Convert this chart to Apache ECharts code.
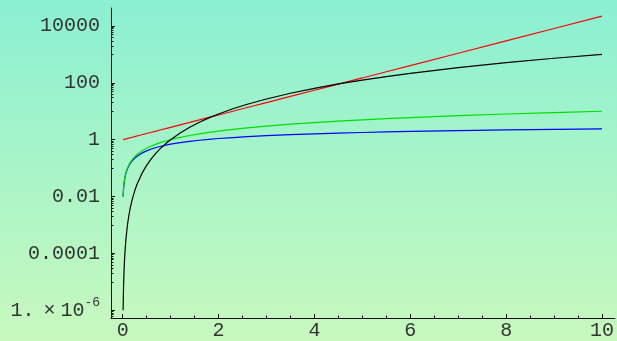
<!DOCTYPE html>
<html>
<head>
<meta charset="utf-8">
<script src="https://cdn.jsdelivr.net/npm/echarts@6/dist/echarts.min.js"></script>
<style>
html,body{margin:0;padding:0;}
#c{width:617px;height:341px;}
</style>
</head>
<body>
<div id="c"></div>
<script>
// x sample positions
var xs = [0.01,0.015,0.02,0.03,0.04,0.05,0.07,0.1,0.13,0.16,0.2,0.25,0.3,0.4,0.5,0.6,0.7,0.8,0.9,1,1.2,1.4,1.6,1.8,2,2.3,2.6,3,3.5,4,4.5,5,5.5,6,7,8,9,10];
// red curve values
var redVals = [1.01,1.015,1.02,1.03,1.04,1.05,1.07,1.105,1.14,1.17,1.22,1.28,1.35,1.49,1.65,1.82,2.01,2.23,2.46,2.72,3.32,4.06,4.95,6.05,7.39,9.97,13.5,20.1,33.1,54.6,90,148,245,403,1097,2981,8103,22026];
// black curve values
var blackVals = [1e-6,3.4e-6,8e-6,2.7e-5,6.4e-5,1.25e-4,3.4e-4,0.001,0.0022,0.0041,0.008,0.0156,0.027,0.064,0.125,0.216,0.343,0.512,0.729,1,1.73,2.74,4.1,5.83,8,12.2,17.6,27,42.9,64,91,125,166,216,343,512,729,1000];
// green curve values
var greenVals = [0.01,0.015,0.02,0.03,0.04,0.05,0.07,0.1,0.13,0.16,0.2,0.25,0.3,0.4,0.5,0.6,0.7,0.8,0.9,1,1.2,1.4,1.6,1.8,2,2.3,2.6,3,3.5,4,4.5,5,5.5,6,7,8,9,10];
// blue curve values
var blueVals = [0.00995,0.0149,0.0198,0.0296,0.0392,0.0488,0.0677,0.0953,0.122,0.148,0.182,0.223,0.262,0.336,0.405,0.47,0.531,0.588,0.642,0.693,0.788,0.875,0.956,1.03,1.10,1.19,1.28,1.39,1.50,1.61,1.70,1.79,1.87,1.95,2.08,2.20,2.30,2.40];
// tick values and labels
var xTicks = [0,2,4,6,8,10];
var xMinorTicks = [0.5,1,1.5,2.5,3,3.5,4.5,5,5.5,6.5,7,7.5,8.5,9,9.5];
var yTickValues = [1e-6,1e-4,0.01,1,100,10000];
var yTickLabels = ['1.×10^-6','0.0001','0.01','1','100','10000'];

var L = function(v){ return Math.log10(v); };
function pairs(vals){ return xs.map(function(x,i){ return [x, L(vals[i])]; }); }

var yMajor = yTickValues.map(L);
var yMinor = [];
yMajor.forEach(function(k){
  for (var m=1;m<=9;m++){ var v = k + Math.log10(m/10); if (v > -6.27) yMinor.push(v); }
});
var labelMap = {};
yMajor.forEach(function(k,i){ labelMap[Math.round(k)] = yTickLabels[i]; });

function fmtY(v){
  var s = labelMap[Math.round(v)];
  if (s === undefined) return '';
  if (s.indexOf('^') >= 0){
    var p = s.split('^');
    var base = p[0].split('×');
    return '{a|' + base[0] + '}{x|×}{a|' + base[1] + '}{s|' + p[1] + '}';
  }
  return s;
}

var FONT = 'Liberation Mono';
var TXT = '#333';
var chart = echarts.init(document.getElementById('c'), null, {renderer:'canvas'});
var lineStyle = function(c){ return {color:c, width:1.2}; };
chart.setOption({
  animation:false,
  backgroundColor:{type:'linear',x:0,y:0,x2:0,y2:1,colorStops:[{offset:0,color:'#8af0d2'},{offset:1,color:'#c8f9be'}]},
  grid:{left:111,right:0,top:8,bottom:20,containLabel:false},
  xAxis:[{
    type:'value', min:-0.243, max:10.27,
    axisLine:{show:true,onZero:false,lineStyle:{color:'#111',width:1}},
    splitLine:{show:false},
    axisTick:{show:true,inside:true,length:4,lineStyle:{color:'#111'},customValues:xTicks},
    axisLabel:{show:true,customValues:xTicks,fontFamily:FONT,fontSize:20,color:TXT,margin:3}
  },{
    type:'value', min:-0.243, max:10.27, position:'bottom',
    axisLine:{show:false,onZero:false}, splitLine:{show:false},
    axisTick:{show:true,inside:true,length:2.5,lineStyle:{color:'#111'},customValues:xMinorTicks},
    axisLabel:{show:false}
  }],
  yAxis:[{
    type:'value', min:-6.27, max:4.63,
    axisLine:{show:true,onZero:false,lineStyle:{color:'#111',width:1}},
    splitLine:{show:false},
    axisTick:{show:true,inside:true,length:4,lineStyle:{color:'#111'},customValues:yMajor},
    axisLabel:{show:true,customValues:yMajor,formatter:fmtY,fontFamily:FONT,fontSize:20,color:TXT,margin:11,
      rich:{
        a:{fontFamily:FONT,fontSize:20,color:TXT},
        x:{fontFamily:FONT,fontSize:20,color:TXT,padding:[0,5,0,9]},
        s:{fontFamily:FONT,fontSize:13,color:TXT,padding:[0,0,16,0]}
      }}
  },{
    type:'value', min:-6.27, max:4.63, position:'left',
    axisLine:{show:false,onZero:false}, splitLine:{show:false},
    axisTick:{show:true,inside:true,length:2.5,lineStyle:{color:'#111'},customValues:yMinor},
    axisLabel:{show:false}
  }],
  series:[
    {type:'line',name:'red',data:pairs(redVals),showSymbol:false,lineStyle:lineStyle('#ff0000'),z:2},
    {type:'line',name:'blue',data:pairs(blueVals),showSymbol:false,lineStyle:lineStyle('#0000ff'),z:3},
    {type:'line',name:'green',data:pairs(greenVals),showSymbol:false,lineStyle:lineStyle('#00e000'),z:4},
    {type:'line',name:'black',data:pairs(blackVals),showSymbol:false,lineStyle:lineStyle('#000000'),z:5}
  ]
});
</script>
</body>
</html>
